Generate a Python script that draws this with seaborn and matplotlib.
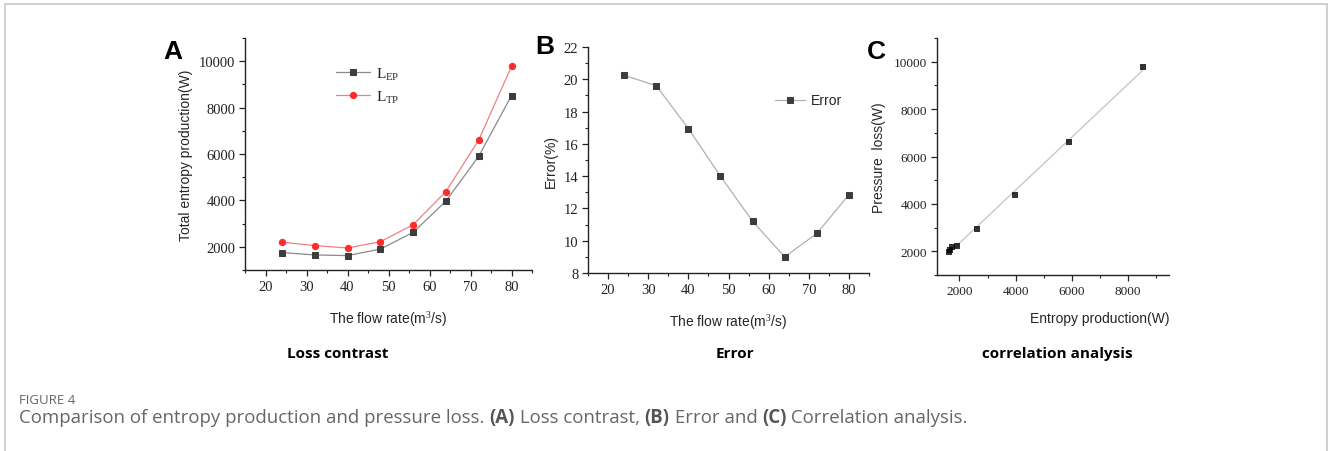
import numpy as np
import pandas as pd
import matplotlib
matplotlib.use("Agg")
import matplotlib.pyplot as plt
from matplotlib.patches import Rectangle
from matplotlib.ticker import MultipleLocator
import seaborn as sns

# Flow rates (m^3/s)
flow_rate = [24, 32, 40, 48, 56, 64, 72, 80]
# Entropy production loss L_EP (W)
loss_ep = [1750, 1650, 1620, 1900, 2620, 3970, 5900, 8520]
# Total pressure loss L_TP (W)
loss_tp = [2200, 2050, 1950, 2220, 2950, 4380, 6600, 9780]
# Relative error (%)
error_pct = [20.25, 19.6, 16.95, 14.0, 11.2, 9.0, 10.45, 12.85]

panel_titles = ["Loss contrast", "Error", "correlation analysis"]
caption_head = "FIGURE 4"

sns.set_theme(style="ticks")
plt.rcParams["font.family"] = ["Liberation Sans", "DejaVu Sans"]
plt.rcParams["mathtext.fontset"] = "custom"
plt.rcParams["mathtext.rm"] = "Liberation Serif"
plt.rcParams["mathtext.it"] = "Liberation Serif:italic"

SERIF = "Liberation Serif"
DARK = "#3d3d3d"
LINE_GRAY = "#8a8a8a"
RED = "#ff2a2a"
RED_LINE = "#f08080"

W, H = 1328, 452
fig = plt.figure(figsize=(W / 100, H / 100), dpi=100)


def px_axes(left, top, right, bottom):
    return fig.add_axes([left / W, 1 - bottom / H, (right - left) / W, (bottom - top) / H])


def style_axes(ax, xminor, yminor, labelsize=10.5):
    for s in ("top", "right"):
        ax.spines[s].set_visible(False)
    for s in ("left", "bottom"):
        ax.spines[s].set_linewidth(1.0)
        ax.spines[s].set_color("#222222")
    ax.xaxis.set_minor_locator(MultipleLocator(xminor))
    ax.yaxis.set_minor_locator(MultipleLocator(yminor))
    ax.tick_params(which="major", direction="out", length=4, width=0.9, color="#222222",
                   labelsize=labelsize, pad=3, labelfontfamily=SERIF, labelcolor="#222222")
    ax.tick_params(which="minor", direction="out", length=2, width=0.8, color="#222222")


df = pd.DataFrame({"flow": flow_rate, "ep": loss_ep, "tp": loss_tp, "err": error_pct})

# ---- (A) loss contrast ----
axA = px_axes(245, 39, 532, 271)
sns.lineplot(data=df, x="flow", y="ep", ax=axA, color=LINE_GRAY, lw=0.9,
             marker="s", markersize=4, markerfacecolor=DARK, markeredgecolor=DARK,
             label=r"L$_{\mathrm{EP}}$")
sns.lineplot(data=df, x="flow", y="tp", ax=axA, color=RED_LINE, lw=0.9,
             marker="o", markersize=4.5, markerfacecolor=RED, markeredgecolor=RED,
             label=r"L$_{\mathrm{TP}}$")
axA.set_xlim(15, 85)
axA.set_ylim(1000, 11000)
axA.set_xticks([20, 30, 40, 50, 60, 70, 80])
axA.set_yticks([2000, 4000, 6000, 8000, 10000])
axA.set_xlabel("The flow rate(m$^{3}$/s)", fontsize=10, labelpad=12)
axA.set_ylabel("Total entropy production(W)", fontsize=10, labelpad=4)
style_axes(axA, 5, 1000)
axA.legend(loc="upper left", bbox_to_anchor=(0.27, 0.94), frameon=False,
           handlelength=2.2, handletextpad=0.4, labelspacing=0.45,
           prop={"family": SERIF, "size": 11})

# ---- (B) error ----
axB = px_axes(588, 48, 869, 274)
sns.lineplot(data=df, x="flow", y="err", ax=axB, color="#b0b0b0", lw=0.9,
             marker="s", markersize=4, markerfacecolor=DARK, markeredgecolor=DARK,
             label="Error")
axB.set_xlim(15, 85)
axB.set_ylim(8, 22)
axB.set_xticks([20, 30, 40, 50, 60, 70, 80])
axB.set_yticks(list(range(8, 23, 2)))
axB.set_xlabel("The flow rate(m$^{3}$/s)", fontsize=10, labelpad=12)
axB.set_ylabel("Error(%)", fontsize=10, labelpad=4)
style_axes(axB, 5, 1)
axB.legend(loc="upper left", bbox_to_anchor=(0.62, 0.85), frameon=False,
           handlelength=2.2, handletextpad=0.4, prop={"size": 10})

# ---- (C) correlation ----
axC = px_axes(937, 39, 1169, 276)
sns.regplot(data=df, x="ep", y="tp", ax=axC, ci=None, truncate=True, marker="s",
            scatter_kws={"s": 16, "color": "black", "linewidths": 0, "zorder": 3},
            line_kws={"color": "#c8c8c8", "lw": 1.0})
axC.set_xlim(1200, 9450)
axC.set_ylim(1000, 11000)
axC.set_xticks([2000, 4000, 6000, 8000])
axC.set_yticks([2000, 4000, 6000, 8000, 10000])
axC.set_xlabel("Entropy production(W)", fontsize=10, labelpad=10, loc="right")
axC.set_ylabel("Pressure  loss(W)", fontsize=10, labelpad=6)
style_axes(axC, 1000, 1000, labelsize=9.5)

# Panel letters
for letter, (x, y) in zip("ABC", [(173, 52), (545, 47), (876, 52)]):
    fig.text(x / W, 1 - y / H, letter, fontsize=19, fontweight="bold",
             ha="center", va="center", color="black")

# Panel titles under the plots
for title, x in zip(panel_titles, [338, 735, 1057]):
    fig.text(x / W, 1 - 354 / H, title, fontsize=11, fontweight="bold",
             family=["Open Sans", "DejaVu Sans"], ha="center", va="center", color="black")

# Caption
CAP_FS = 13.4
fig.text(19 / W, 1 - 401 / H, caption_head, fontsize=9.5,
         family=["Open Sans", "DejaVu Sans"], ha="left", va="center", color="#666666")
cap = fig.text(19 / W, 1 - 418 / H, "Comparison of entropy production and pressure loss. ",
               fontsize=CAP_FS, family=["Open Sans", "DejaVu Sans"], ha="left", va="center",
               color="#666666")
parts = [("(A)", True), (" Loss contrast, ", False), ("(B)", True), (" Error and ", False),
         ("(C)", True), (" Correlation analysis.", False)]
fig.canvas.draw()
renderer = fig.canvas.get_renderer()
x_cursor = cap.get_window_extent(renderer).x1
for txt, bold in parts:
    t = fig.text(x_cursor / W, 1 - 418 / H, txt, fontsize=CAP_FS,
                 family=["Open Sans", "DejaVu Sans"], fontweight="bold" if bold else "normal",
                 ha="left", va="center", color="#555555" if bold else "#666666")
    x_cursor = t.get_window_extent(renderer).x1

# Light frame around the figure
fig.patches.append(Rectangle((4.5 / W, -0.05), (W - 6) / W, 1.05 - 4.5 / H,
                             transform=fig.transFigure, fill=False,
                             edgecolor="#c8c8c8", lw=1.2))

fig.savefig("out.png", dpi=100)
